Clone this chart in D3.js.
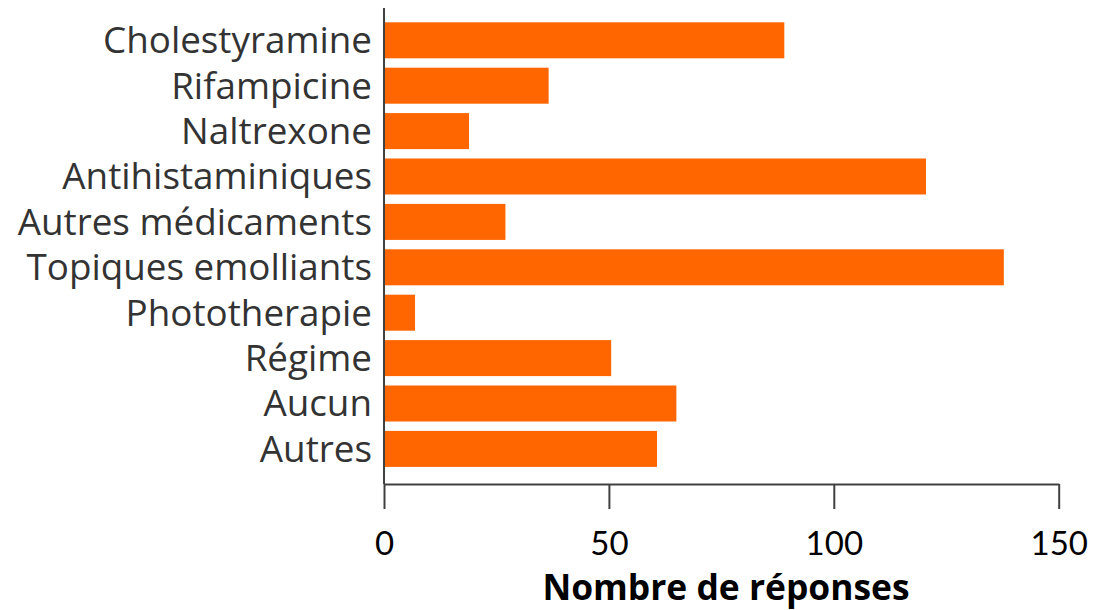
<!DOCTYPE html>
<html>
<head>
<meta charset="utf-8">
<script src="https://cdn.jsdelivr.net/npm/d3@7"></script>
<style>
  html, body { margin: 0; padding: 0; background: #ffffff; }
  svg { display: block; }
</style>
</head>
<body>
<svg id="chart" width="1093" height="610"></svg>
<script>
const categories = ["Cholestyramine", "Rifampicine", "Naltrexone", "Antihistaminiques", "Autres médicaments", "Topiques emolliants", "Phototherapie", "Régime", "Aucun", "Autres"];
const values = [89, 36.6, 18.9, 120.5, 27, 137.8, 6.9, 50.5, 65, 60.7];
const xTicks = [0, 50, 100, 150];
const xTitle = "Nombre de réponses";

const svg = d3.select("#chart");
const font = "'Open Sans', Lato, sans-serif";
const tickFont = "Lato, 'Open Sans', sans-serif";
const textColor = "#333333";
const axisColor = "#404040";

const x = d3.scaleLinear().domain([0, 150]).range([384, 1058.7]);
const y = d3.scaleBand().domain(categories).range([17.6, 471.6])
  .paddingInner(0.207).paddingOuter(0.1035);

// bars
svg.append("g").selectAll("rect").data(categories).join("rect")
  .attr("x", x(0))
  .attr("y", d => y(d))
  .attr("width", (d, i) => x(values[i]) - x(0))
  .attr("height", y.bandwidth())
  .attr("fill", "#ff6600");

// y axis
const yAxis = svg.append("g").attr("transform", `translate(${x(0)},0)`)
  .call(d3.axisLeft(y).tickSize(0).tickPadding(12));
yAxis.select(".domain").remove();
yAxis.selectAll("text")
  .attr("font-family", font).attr("font-size", 36.8).attr("fill", textColor)
  .attr("dy", "0.35em");
svg.append("line")
  .attr("x1", x(0)).attr("x2", x(0)).attr("y1", 8).attr("y2", 484)
  .attr("stroke", axisColor).attr("stroke-width", 2);

// x axis
const xAxis = svg.append("g").attr("transform", "translate(0,484)")
  .call(d3.axisBottom(x).tickValues(xTicks).tickSize(25).tickSizeOuter(0).tickPadding(23));
xAxis.select(".domain").attr("stroke", axisColor).attr("stroke-width", 2);
xAxis.selectAll(".tick line").attr("stroke", axisColor).attr("stroke-width", 2);
xAxis.selectAll("text")
  .attr("font-family", tickFont).attr("font-size", 33).attr("fill", "#000000");

svg.append("text")
  .attr("x", 726)
  .attr("y", 599.5)
  .attr("text-anchor", "middle")
  .attr("font-family", font).attr("font-size", 35.4).attr("font-weight", "bold")
  .attr("fill", "#000000")
  .text(xTitle);
</script>
</body>
</html>
